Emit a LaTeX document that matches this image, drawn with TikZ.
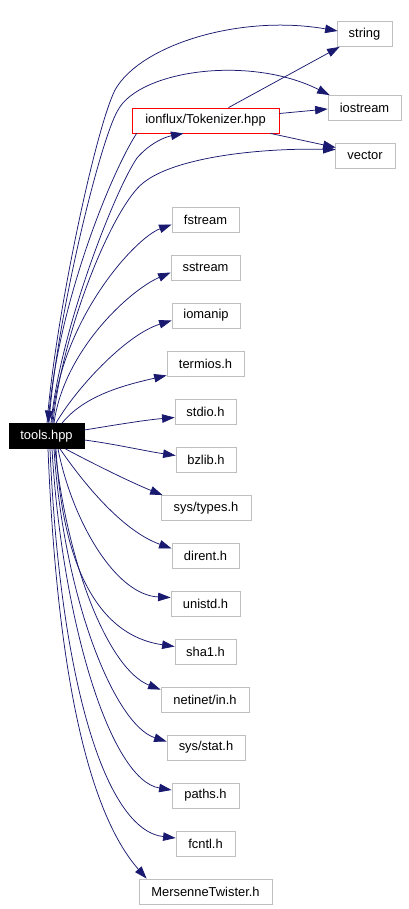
\documentclass[tikz,border=0pt]{standalone}
\usepackage{fontspec}
\setmainfont{Liberation Sans}
\usetikzlibrary{arrows.meta,calc}
\definecolor{edgeblue}{HTML}{191970}
\definecolor{boxgray}{HTML}{BFBFBF}
\begin{document}
\begin{tikzpicture}[x=1pt,y=-1pt,
  box/.style={draw=boxgray, line width=0.8pt, fill=white, minimum height=25pt, inner sep=0pt,
    font=\fontsize{12.9}{15}\selectfont, text=black},
  mainbox/.style={box, draw=black, fill=black, text=white},
  focusbox/.style={box, draw=red},
  edge/.style={draw=edgeblue, line width=0.75pt, -{Triangle[length=12.5pt,width=8.5pt]}}]
\useasboundingbox (0,0) rectangle (408,909);
% nodes
\node[mainbox, minimum width=75pt] (tools) at (46.5,436) {tools.hpp};
\node[box, minimum width=55pt] (string) at (364.5,34) {string};
\node[box, minimum width=73pt] (iostream) at (364.5,108) {iostream};
\node[focusbox, minimum width=147pt] (tok) at (205.5,120.5) {ionflux/Tokenizer.hpp};
\node[box, minimum width=60pt] (vector) at (365,155.5) {vector};
\node[box, minimum width=67pt] (fstream) at (205.5,219.5) {fstream};
\node[box, minimum width=69pt] (sstream) at (205.5,267.5) {sstream};
\node[box, minimum width=68pt] (iomanip) at (206,315.5) {iomanip};
\node[box, minimum width=77pt] (termios) at (205.5,363.5) {termios.h};
\node[box, minimum width=61pt] (stdio) at (205.5,411.5) {stdio.h};
\node[box, minimum width=60pt] (bzlib) at (206,459.5) {bzlib.h};
\node[box, minimum width=90pt] (systypes) at (206,508) {sys/types.h};
\node[box, minimum width=67pt] (dirent) at (205.5,555.5) {dirent.h};
\node[box, minimum width=69pt] (unistd) at (205.5,603.5) {unistd.h};
\node[box, minimum width=61pt] (sha) at (205.5,651.5) {sha1.h};
\node[box, minimum width=88pt] (netinet) at (205,699.5) {netinet/in.h};
\node[box, minimum width=78pt] (sysstat) at (206,747.5) {sys/stat.h};
\node[box, minimum width=67pt] (paths) at (205.5,795.5) {paths.h};
\node[box, minimum width=59pt] (fcntl) at (205.5,843.5) {fcntl.h};
\node[box, minimum width=133pt] (mt) at (205.5,891.5) {MersenneTwister.h};
% upper edges
\draw[edge] ($(tools.north)+(0.5,0)$) .. controls (55,320) and (95,130) .. (115,90)
  .. controls (140,45) and (240,14) .. ($(string.west)+(1,-3)$);
\draw[edge] ($(tools.north)+(2.5,0)$) .. controls (56,320) and (100,140) .. (118,110)
  .. controls (140,70) and (250,55) .. ($(iostream.north west)+(2,0)$);
\draw[edge] ($(tok.south west)+(5,0)$) .. controls (110,175) and (60,300) .. ($(tools.north)+(1.5,0)$);
\draw[edge] ($(tools.north)+(4.5,0)$) .. controls (60,330) and (115,190) .. (137,158)
  .. controls (150,143) and (165,137) .. ($(tok.south)+(-22,0)$);
\draw[edge] ($(tools.north)+(6.5,0)$) .. controls (62,330) and (113,207) .. (143,183)
  .. controls (175,157) and (260,148) .. ($(vector.west)+(1,-6)$);
\draw[edge] ($(tok.north)+(23,0)$) -- ($(string.south west)+(3,0)$);
\draw[edge] ($(tok.east)+(0,-7)$) -- ($(iostream.west)+(0,1)$);
\draw[edge] ($(tok.south east)+(-9,0)$) -- ($(vector.west)+(1,-8)$);
% fan edges
\draw[edge] ($(tools.north)+(5.5,0)$) .. controls (60,320) and (135,238) .. ($(fstream.west)+(0,5)$);
\draw[edge] ($(tools.north)+(7.5,0)$) .. controls (64,350) and (130,290) .. ($(sstream.west)+(0,5)$);
\draw[edge] ($(tools.north)+(9.5,0)$) .. controls (75,390) and (125,335) .. ($(iomanip.west)+(0,5)$);
\draw[edge] ($(tools.north)+(15.5,0)$) .. controls (85,395) and (125,385) .. ($(termios.south west)+(0,-1)$);
\draw[edge] ($(tools.east)+(0,-6)$) .. controls (115,425) and (145,420) .. ($(stdio.west)+(0,6)$);
\draw[edge] ($(tools.east)+(0,4)$) .. controls (115,444) and (145,451) .. ($(bzlib.west)+(0,-4)$);
\draw[edge] ($(tools.south)+(19,0)$) .. controls (90,462) and (130,482) .. ($(systypes.north west)+(2,0)$);
\draw[edge] ($(tools.south)+(13.5,0)$) .. controls (80,478) and (120,530) .. ($(dirent.west)+(0,-7)$);
\draw[edge] ($(tools.south)+(11.5,0)$) .. controls (72,520) and (115,595) .. ($(unistd.west)+(0,-6)$);
\draw[edge] ($(tools.south)+(9.5,0)$) .. controls (62,560) and (95,635) .. ($(sha.west)+(0,-5)$);
\draw[edge] ($(tools.south)+(8.5,0)$) .. controls (68,570) and (110,670) .. ($(netinet.north west)+(0,3)$);
\draw[edge] ($(tools.south)+(7.5,0)$) .. controls (64,600) and (115,725) .. ($(sysstat.west)+(0,-6)$);
\draw[edge] ($(tools.south)+(5.5,0)$) .. controls (62,620) and (110,780) .. ($(paths.west)+(0,-5.5)$);
\draw[edge] ($(tools.south)+(3.5,0)$) .. controls (60,680) and (105,830) .. ($(fcntl.west)+(0,-5.5)$);
\draw[edge] ($(tools.south)+(1.5,0)$) .. controls (58,700) and (95,820) .. ($(mt.north west)+(8,0)$);
\end{tikzpicture}
\end{document}
